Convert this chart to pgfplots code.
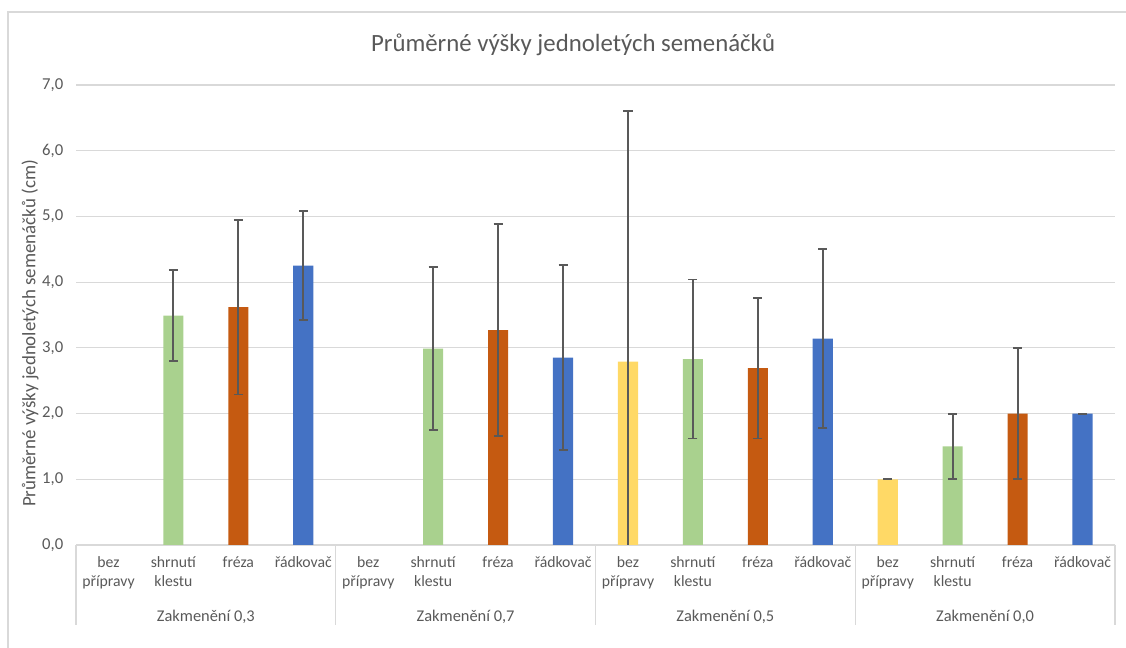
\documentclass[border=0pt]{standalone}
\usepackage{pgfplots}
\pgfplotsset{compat=1.18}
\usepackage{fontspec}
\setmainfont{Carlito}
\definecolor{txt}{HTML}{595959}
\definecolor{gridc}{HTML}{D9D9D9}
\definecolor{cyel}{HTML}{FFD966}
\definecolor{cgrn}{HTML}{A9D18E}
\definecolor{corg}{HTML}{C55A11}
\definecolor{cblu}{HTML}{4472C4}
\definecolor{errc}{HTML}{595959}

\begin{document}
\begin{tikzpicture}[x=1pt,y=1pt]
\path[use as bounding box] (0,0) rectangle (844.5,486);
% chart frame
\draw[gridc, line width=0.9pt] (6,-2) -- (6,477) -- (847,477);
% title
\node[text=txt, font=\fontsize{18.6}{21}\selectfont] at (429.75,452.5) {Průměrné výšky jednoletých semenáčků};
% y label
\node[text=txt, rotate=90, font=\fontsize{14.2}{17}\selectfont] at (22.5,236) {Průměrné výšky jednoletých semenáčků (cm)};
\begin{axis}[
  at={(57pt,77.25pt)}, anchor=south west,
  scale only axis, width=779.25pt, height=345pt,
  xmin=-0.5, xmax=15.5, ymin=0, ymax=7,
  axis line style={draw=none},
  major tick length=0pt,
  ytick={0,1,...,7},
  ymajorgrids=true,
  grid style={gridc, line width=0.9pt},
  /pgf/number format/.cd, use comma, fixed, fixed zerofill, precision=1, assume math mode=true,
  /pgfplots/.cd,
  yticklabel style={text=txt, font=\fontsize{12.5}{15}\selectfont, xshift=-6pt},
  xtick={0,...,15},
  xticklabels={{bez\\přípravy},{shrnutí\\klestu},fréza,řádkovač,
               {bez\\přípravy},{shrnutí\\klestu},fréza,řádkovač,
               {bez\\přípravy},{shrnutí\\klestu},fréza,řádkovač,
               {bez\\přípravy},{shrnutí\\klestu},fréza,řádkovač},
  xticklabel style={text=txt, align=center, anchor=north, yshift=-5.5pt,
    font=\fontsize{11.8}{13.6}\selectfont},
  ybar, bar width=0.31,
  error bars/y dir=both, error bars/y explicit,
  error bars/error bar style={errc, line width=1.4pt},
  error bars/error mark options={errc, rotate=90, mark size=3.4pt, line width=1.4pt},
]
\addplot[fill=cyel, draw=none, bar shift=0pt] coordinates {
  (8,2.79) +- (0,3.81)
  (12,1.00) +- (0,0)
};
\addplot[fill=cgrn, draw=none, bar shift=0pt] coordinates {
  (1,3.49) +- (0,0.69)
  (5,2.99) +- (0,1.24)
  (9,2.83) +- (0,1.21)
  (13,1.50) +- (0,0.50)
};
\addplot[fill=corg, draw=none, bar shift=0pt] coordinates {
  (2,3.62) +- (0,1.33)
  (6,3.27) +- (0,1.61)
  (10,2.69) +- (0,1.07)
  (14,2.00) +- (0,1.00)
};
\addplot[fill=cblu, draw=none, bar shift=0pt] coordinates {
  (3,4.25) +- (0,0.83)
  (7,2.85) +- (0,1.41)
  (11,3.14) +- (0,1.36)
  (15,2.00) +- (0,0)
};
\end{axis}
% group separators and labels
\foreach \xx in {57,251.8125,446.625,641.4375,836.25}
  \draw[gridc, line width=0.9pt] (\xx,77.25) -- (\xx,17.25);
\node[text=txt, font=\fontsize{12.3}{14}\selectfont] at (154.4,23.25) {Zakmenění 0,3};
\node[text=txt, font=\fontsize{12.3}{14}\selectfont] at (349.2,23.25) {Zakmenění 0,7};
\node[text=txt, font=\fontsize{12.3}{14}\selectfont] at (544.0,23.25) {Zakmenění 0,5};
\node[text=txt, font=\fontsize{12.3}{14}\selectfont] at (738.8,23.25) {Zakmenění 0,0};
\end{tikzpicture}
\end{document}
